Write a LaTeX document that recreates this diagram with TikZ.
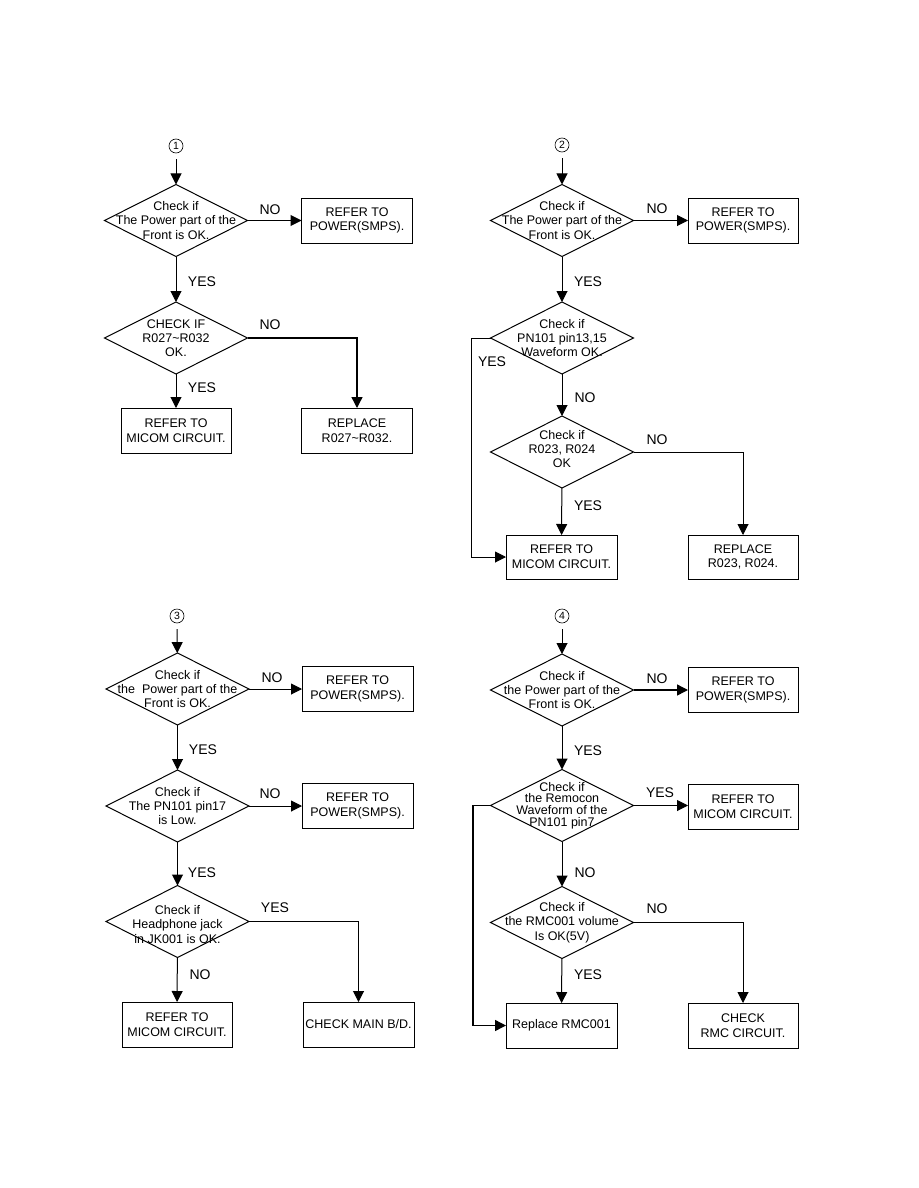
\documentclass[tikz,border=0pt]{standalone}
\usepackage{fontspec}
\setmainfont{Liberation Sans}
\usetikzlibrary{shapes.geometric,arrows.meta}

\begin{document}
\begin{tikzpicture}[x=1pt, y=-1pt, line width=1pt,
    every node/.style={inner sep=0pt, outer sep=0pt},
    decisao/.style={diamond, draw, minimum width=143pt, minimum height=72pt},
    dtexto/.style={align=center, font=\fontsize{12.5}{14.3}\selectfont},
    caixa/.style={rectangle, draw, minimum width=111pt, minimum height=45pt, align=center, font=\fontsize{12.5}{14.7}\selectfont},
    inicio/.style={circle, draw, minimum size=14pt, line width=0.6pt, font=\fontsize{10.5}{10.5}\selectfont},
    rotulo/.style={font=\fontsize{14}{14}\selectfont},
    seta/.style={-{Triangle[length=11pt, width=11pt]}}]
    \useasboundingbox (0,0) rectangle (918,1188);

    % Fluxograma 1
    \node[inicio] (c1) at (176,146) {1};
    \node[decisao] (d11) at (176,220.5) {};
    \node[dtexto] (t11) at (d11) {Check if\\The Power part of the\\Front is OK.};
    \node[caixa] (p1) at (357,220.5) {REFER TO\\POWER(SMPS).};
    \node[decisao] (d12) at (176,338) {};
    \node[dtexto] (t12) at (d12) {CHECK IF\\R027\textasciitilde R032\\OK.};
    \node[caixa, minimum width=110pt] (m1) at (176,430.5) {REFER TO\\MICOM CIRCUIT.};
    \node[caixa] (r1) at (357,430.5) {REPLACE\\R027\textasciitilde R032.};
    \node[rotulo] (n11) at (270,210) {NO};
    \node[rotulo] (y11) at (202,282) {YES};
    \node[rotulo] (n12) at (270,325) {NO};
    \node[rotulo] (y12) at (202,388) {YES};

    \draw[seta, shorten <=6pt] (c1) -- (d11);
    \draw[seta] (d11) -- (p1);
    \draw[seta] (d11) -- (d12);
    \draw[seta, line width=1.4pt] (d12) -| (r1);
    \draw[seta] (d12) -- (m1);

    % Fluxograma 2
    \node[inicio] (c2) at (562,145) {2};
    \node[decisao] (d21) at (562,220.5) {};
    \node[dtexto] (t21) at (d21) {Check if\\The Power part of the\\Front is OK.};
    \node[caixa, minimum width=110pt] (p2) at (743,220.5) {REFER TO\\POWER(SMPS).};
    \node[decisao] (d22) at (562,338) {};
    \node[dtexto] (t22) at (d22) {Check if\\PN101 pin13,15\\Waveform OK.};
    \node[decisao] (d23) at (562,452) {};
    \node[dtexto] (t23) at ([yshift=3pt]d23) {Check if\\R023, R024\\OK};
    \node[caixa, minimum height=44pt] (m2) at (561.5,557) {REFER TO\\MICOM CIRCUIT.};
    \node[caixa, minimum width=110pt, minimum height=44pt] (r2) at (743,557) {REPLACE\\R023, R024.};
    \coordinate (k2) at (471,338);
    \node[rotulo] (n21) at (657,209) {NO};
    \node[rotulo] (y21) at (588,282) {YES};
    \node[rotulo] (y22) at (492,362) {YES};
    \node[rotulo] (n22) at (585,398) {NO};
    \node[rotulo] (n23) at (657,440) {NO};
    \node[rotulo] (y23) at (588,506) {YES};

    \draw[seta, shorten <=6pt] (c2) -- (d21);
    \draw[seta] (d21) -- (p2);
    \draw[seta] (d21) -- (d22);
    \draw[seta] (d22) -- (d23);
    \draw[seta] (d22.west) -- (k2) |- (m2.west);
    \draw[seta] (d23) -| (r2);
    \draw[seta] (d23) -- (m2);

    % Fluxograma 3
    \node[inicio] (c3) at (177,616) {3};
    \node[decisao] (d31) at (177.5,689) {};
    \node[dtexto] (t31) at (d31) {Check if\\the\ \ Power part of the\\Front is OK.};
    \node[caixa] (p3) at (357.5,689) {REFER TO\\POWER(SMPS).};
    \node[decisao] (d32) at (177.5,806) {};
    \node[dtexto] (t32) at (d32) {Check if\\The PN101 pin17\\is Low.};
    \node[caixa] (p4) at (357.5,806) {REFER TO\\POWER(SMPS).};
    \node[decisao] (d33) at (177.5,921.5) {};
    \node[dtexto] (t33) at ([yshift=-3pt]d33) {Check if\\Headphone jack\\in JK001 is OK.};
    \node[caixa, minimum width=110pt] (m3) at (177,1024.5) {REFER TO\\MICOM CIRCUIT.};
    \node[caixa] (k3) at (358.5,1024.5) {CHECK MAIN B/D.};
    \node[rotulo] (n31) at (272,678) {NO};
    \node[rotulo] (y31) at (203,750) {YES};
    \node[rotulo] (n32) at (270,794) {NO};
    \node[rotulo] (y32) at (202,873) {YES};
    \node[rotulo] (y33) at (275,908) {YES};
    \node[rotulo] (n33) at (200,975) {NO};

    \draw[seta, shorten <=6pt] (c3) -- (d31);
    \draw[seta] (d31) -- (p3);
    \draw[seta] (d31) -- (d32);
    \draw[seta] (d32) -- (p4);
    \draw[seta] (d32) -- (d33);
    \draw[seta] (d33) -| (k3);
    \draw[seta] (d33) -- (m3);

    % Fluxograma 4
    \node[inicio] (c4) at (562,616) {4};
    \node[decisao] (d41) at (562,690) {};
    \node[dtexto] (t41) at (d41) {Check if\\the Power part of the\\Front is OK.};
    \node[caixa, minimum width=110pt] (p5) at (743,690) {REFER TO\\POWER(SMPS).};
    \node[decisao] (d42) at (562,805.5) {};
    \node[dtexto, font=\fontsize{12.5}{11.8}\selectfont] (t42) at (d42) {Check if\\the Remocon\\Waveform of the\\PN101 pin7};
    \node[caixa, minimum width=110pt] (m4) at (743,806.5) {REFER TO\\MICOM CIRCUIT.};
    \node[decisao] (d43) at (562,922.5) {};
    \node[dtexto] (t43) at (d43) {Check if\\the RMC001 volume\\Is OK(5V)};
    \node[caixa] (r4) at (561.5,1025.5) {Replace RMC001};
    \node[caixa, minimum width=110pt] (k4) at (743,1025.5) {CHECK\\RMC CIRCUIT.};
    \coordinate (k4l) at (473,805.5);
    \node[rotulo] (n41) at (657,679) {NO};
    \node[rotulo] (y41) at (588,751) {YES};
    \node[rotulo] (y42) at (660,793) {YES};
    \node[rotulo] (n42) at (585,873) {NO};
    \node[rotulo] (n43) at (657,909) {NO};
    \node[rotulo] (y43) at (588,975) {YES};

    \draw[seta, shorten <=6pt] (c4) -- (d41);
    \draw[seta, line width=1.4pt] (d41) -- (p5);
    \draw[seta] (d41) -- (d42);
    \draw[seta] (d42.east) -- (d42.east -| m4.west);
    \draw[seta] (d42) -- (d43);
    \draw[seta, line width=1.4pt] (d42.west) -- (k4l) |- (r4.west);
    \draw[seta] (d43) -| (k4);
    \draw[seta] (d43) -- (r4);
\end{tikzpicture}
\end{document}
